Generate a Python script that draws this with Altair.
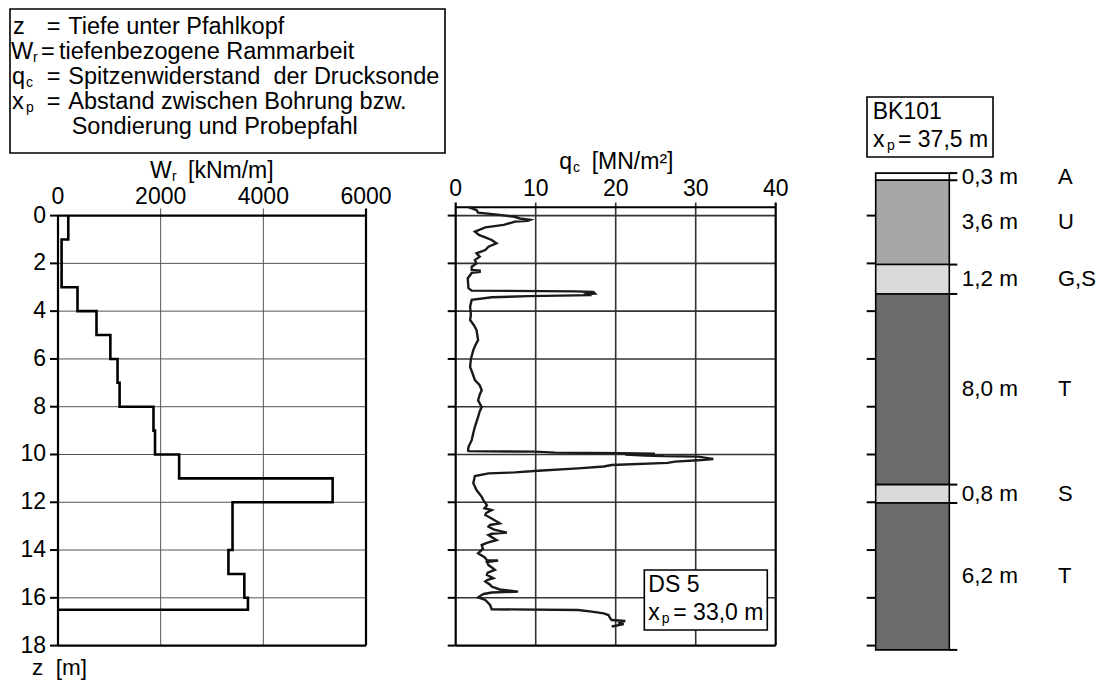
import altair as alt
import pandas as pd

FONT = "Liberation Sans"

# ---------------- data ----------------
z_ticks = [0, 2, 4, 6, 8, 10, 12, 14, 16, 18]
wr_ticks = [0, 2000, 4000, 6000]
qc_ticks = [0, 10, 20, 30, 40]

# tiefenbezogene Rammarbeit W_r (step profile)
wr_top = [0, 1, 3, 4, 5, 6, 7, 8, 9, 10, 11, 12, 14, 15, 16]
wr_bot = [1, 3, 4, 5, 6, 7, 8, 9, 10, 11, 12, 14, 15, 16, 16.5]
wr_val = [200, 70, 380, 750, 1020, 1160, 1200, 1860, 1890, 2360, 5350, 3400, 3320, 3630, 3700]

# Spitzenwiderstand q_c (DS 5)
qc_z = [-0.35, -0.23, -0.12, -0.03, 0.05, 0.12, 0.18, 0.22, 0.25, 0.39, 0.49, 0.67, 0.81, 0.91,
        1.02, 1.16, 1.3, 1.44, 1.58, 1.72, 1.86, 2.0, 2.14, 2.27, 2.3, 2.36, 2.4, 2.63, 3.04,
        3.14, 3.17, 3.2, 3.26, 3.3, 3.33, 3.37, 3.42, 3.53, 3.81, 4.16,
        4.37, 4.6, 4.79, 5.0, 5.21, 5.4, 5.63, 6.0, 6.33, 6.6, 6.89, 7.1, 7.31, 7.5, 7.73, 8.01,
        8.2, 8.43, 8.84, 9.1, 9.4, 9.68, 9.84,
        9.86, 9.88, 9.92, 9.95, 9.97, 10.0, 10.04, 10.07, 10.09, 10.15, 10.19, 10.24, 10.3, 10.35,
        10.44, 10.5, 10.58, 10.68, 10.75, 10.79, 10.9, 11.2, 11.49,
        11.77, 11.91, 12.12, 12.25, 12.33, 12.45, 12.53, 12.7, 12.88, 12.95, 13.02, 13.15, 13.27,
        13.32, 13.37, 13.48, 13.58, 13.7, 13.79, 13.95, 14.14, 14.3, 14.42, 14.44, 14.5, 14.63,
        14.75, 14.83, 14.95, 15.04, 15.18, 15.25, 15.32, 15.45, 15.53, 15.65, 15.74, 15.78, 15.84,
        15.88, 15.98, 16.09, 16.3, 16.48, 16.51, 16.58, 16.65, 16.72, 16.85, 16.93, 16.97, 17.03,
        17.1, 17.2]
qc_val = [1.6, 2.6, 2.8, 5.5, 7.4, 8.0, 9.3, 9.0, 7.4, 6.0, 3.7, 2.4, 2.9, 3.7,
          4.5, 5.1, 4.1, 3.7, 2.6, 3.0, 2.4, 2.6, 2.0, 2.0, 3.0, 3.0, 2.0, 1.5, 1.6,
          2.0, 15.0, 17.2, 17.4, 16.0, 17.0, 9.1, 4.5, 2.0, 1.8, 1.9,
          1.8, 2.3, 2.6, 2.7, 2.8, 2.5, 2.2, 1.9, 1.8, 2.1, 2.4, 3.0, 3.25, 3.0, 2.8, 3.25,
          3.0, 2.8, 2.4, 2.2, 2.0, 1.6, 1.55,
          1.6, 9.9, 12.4, 20.7, 24.9, 21.2, 23.7, 26.0, 30.3, 31.5, 32.2, 30.3, 27.4, 26.5,
          19.5, 18.5, 15.3, 10.3, 7.4, 4.1, 2.4, 2.2, 2.6,
          3.25, 3.45, 3.9, 3.6, 4.5, 3.8, 3.7, 4.6, 5.5, 4.3, 4.1, 4.8, 6.4,
          4.5, 4.1, 4.6, 5.1, 3.9, 3.25, 3.4, 2.8, 3.6, 3.9, 5.3, 3.9, 4.1,
          4.6, 4.9, 4.0, 3.9, 4.7, 4.0, 3.7, 4.3, 4.5, 5.5, 7.8, 4.5, 3.5,
          3.25, 2.8, 3.7, 4.3, 4.5, 15.3, 17.0, 18.5, 19.1, 19.3, 19.5, 21.2, 20.3,
          21.0, 19.5]

# Bohrprofil BK101
bk_top = [-1.78, -1.48, 2.05, 3.28, 11.26, 12.03]
bk_bot = [-1.48, 2.05, 3.28, 11.26, 12.03, 18.18]
bk_thick = ["0,3 m", "3,6 m", "1,2 m", "8,0 m", "0,8 m", "6,2 m"]
bk_soil = ["A", "U", "G,S", "T", "S", "T"]
bk_color = ["#ffffff", "#a7a7a7", "#dadada", "#6b6b6b", "#dadada", "#6b6b6b"]

# ---------------- layout constants ----------------
Z_MAX = 18
WR_MAX = 6000
QC_MAX = 40
QC_TOP = -0.35
TICK_UP = 0.3

ys = alt.Scale(domain=[0, Z_MAX], range=[207.6, 637.6], nice=False, zero=False)
xs1 = alt.Scale(domain=[0, WR_MAX], range=[50, 358], nice=False, zero=False)
xs2 = alt.Scale(domain=[0, QC_MAX], range=[447.7, 767.7], nice=False, zero=False)
xs3 = alt.Scale(domain=[0, 1], range=[867.7, 941.3], nice=False, zero=False)


def Y(f):
    return alt.Y(f, type="quantitative", scale=ys, axis=None)


def X(f, s):
    return alt.X(f, type="quantitative", scale=s, axis=None)


def txt(s, x, y, size=23.5, align="left", baseline="middle"):
    return alt.Chart(pd.DataFrame({"t": [s]})).mark_text(
        align=align, baseline=baseline, fontSize=size, font=FONT, color="black"
    ).encode(x=alt.value(x), y=alt.value(y), text="t:N")


def box(x1, y1, x2, y2):
    return alt.Chart(pd.DataFrame({"a": [0]})).mark_rect(
        fill="white", stroke="black", strokeWidth=1.6
    ).encode(x=alt.value(x1), x2=alt.value(x2), y=alt.value(y1), y2=alt.value(y2))


layers = []

# ---------------- legend box ----------------
layers.append(box(2, 1, 437, 145))
SUB = 14
rows = [18.7, 43.7, 68.7, 93.7, 118.7]
layers += [
    txt("z", 5, rows[0]), txt("=", 38.7, rows[0]), txt("Tiefe unter Pfahlkopf", 60.3, rows[0]),
    txt("W", 3, rows[1]), txt("r", 25, rows[1] + 6, SUB), txt("=", 33, rows[1]),
    txt("tiefenbezogene Rammarbeit", 51, rows[1]),
    txt("q", 4, rows[2]), txt("c", 18, rows[2] + 6, SUB), txt("=", 38.7, rows[2]),
    txt("Spitzenwiderstand\u00a0 der Drucksonde", 60.3, rows[2]),
    txt("x", 4, rows[3]), txt("p", 18, rows[3] + 6, SUB), txt("=", 38.7, rows[3]),
    txt("Abstand zwischen Bohrung bzw.", 60.3, rows[3]),
    txt("Sondierung und Probepfahl", 63.7, rows[4]),
]

# ---------------- panel 1: W_r ----------------
hgrid1 = pd.DataFrame({"z": z_ticks[1:-1], "a": 0, "b": WR_MAX})
vgrid1 = pd.DataFrame({"v": wr_ticks[1:-1], "z0": -TICK_UP, "z1": Z_MAX})
hframe1 = pd.DataFrame({"z": [0, Z_MAX], "a": 0, "b": WR_MAX})
vframe1 = pd.DataFrame({"v": [0, WR_MAX], "z0": [0, -TICK_UP], "z1": Z_MAX})

layers += [
    alt.Chart(hgrid1).mark_rule(color="#555555", strokeWidth=1).encode(y=Y("z"), x=X("a", xs1), x2="b"),
    alt.Chart(vgrid1).mark_rule(color="#555555", strokeWidth=1).encode(x=X("v", xs1), y=Y("z0"), y2="z1"),
    alt.Chart(hframe1).mark_rule(color="black", strokeWidth=2.2).encode(y=Y("z"), x=X("a", xs1), x2="b"),
    alt.Chart(vframe1).mark_rule(color="black", strokeWidth=2.2).encode(x=X("v", xs1), y=Y("z0"), y2="z1"),
    alt.Chart(pd.DataFrame({"z": z_ticks})).mark_rule(color="black", strokeWidth=2).encode(
        y=Y("z"), x=alt.value(42), x2=alt.value(50)),
]

wr_rows = []
for t, b, v in zip(wr_top, wr_bot, wr_val):
    wr_rows.append((t, v))
    wr_rows.append((b, v))
wr_rows.append((wr_bot[-1], 0))
wr_df = pd.DataFrame({"i": range(len(wr_rows)), "z": [r[0] for r in wr_rows], "w": [r[1] for r in wr_rows]})
layers.append(
    alt.Chart(wr_df).mark_line(color="black", strokeWidth=2.6, strokeJoin="miter").encode(
        x=X("w", xs1), y=Y("z"), order="i:Q")
)

layers += [
    alt.Chart(pd.DataFrame({"v": wr_ticks})).mark_text(fontSize=23, font=FONT, baseline="middle", color="black").encode(
        x=X("v", xs1), y=alt.value(188.7), text="v:N"),
    alt.Chart(pd.DataFrame({"z": z_ticks})).mark_text(fontSize=23, font=FONT, align="right", baseline="middle",
                                                      color="black").encode(
        y=Y("z"), x=alt.value(38), text="z:N"),
    txt("W", 142, 162.7, 23), txt("r", 164, 168.7, SUB), txt("[kNm/m]", 180, 162.7, 23),
    txt("z\u00a0 [m]", 24, 672, 22.5, baseline="bottom"),
]

# ---------------- panel 2: q_c ----------------
hgrid2 = pd.DataFrame({"z": z_ticks[:-1], "a": 0, "b": QC_MAX})
vgrid2 = pd.DataFrame({"v": qc_ticks[1:-1], "z0": QC_TOP - 0.2, "z1": Z_MAX})
hframe2 = pd.DataFrame({"z": [QC_TOP, Z_MAX], "a": 0, "b": QC_MAX})
vframe2 = pd.DataFrame({"v": [0, QC_MAX], "z0": QC_TOP - 0.2, "z1": Z_MAX})

layers += [
    alt.Chart(hgrid2).mark_rule(color="#333333", strokeWidth=1.6).encode(y=Y("z"), x=X("a", xs2), x2="b"),
    alt.Chart(vgrid2).mark_rule(color="#333333", strokeWidth=1.6).encode(x=X("v", xs2), y=Y("z0"), y2="z1"),
    alt.Chart(hframe2).mark_rule(color="black", strokeWidth=2.2).encode(y=Y("z"), x=X("a", xs2), x2="b"),
    alt.Chart(vframe2).mark_rule(color="black", strokeWidth=2.2).encode(x=X("v", xs2), y=Y("z0"), y2="z1"),
    alt.Chart(pd.DataFrame({"z": z_ticks})).mark_rule(color="black", strokeWidth=2).encode(
        y=Y("z"), x=alt.value(439.7), x2=alt.value(447.7)),
]

qc_df = pd.DataFrame({"i": range(len(qc_z)), "z": qc_z, "q": qc_val})
layers.append(
    alt.Chart(qc_df).mark_line(color="#1a1a1a", strokeWidth=2.4).encode(
        x=X("q", xs2), y=Y("z"), order="i:Q")
)

layers += [
    alt.Chart(pd.DataFrame({"v": qc_ticks})).mark_text(fontSize=23, font=FONT, baseline="middle", color="black").encode(
        x=X("v", xs2), y=alt.value(181.3), text="v:N"),
    txt("q", 551.3, 153.7, 23), txt("c", 565, 159.7, SUB), txt("[MN/m²]", 583.7, 153.7, 23),
    box(636.3, 562, 759.3, 622),
    txt("DS 5", 640.3, 577, 23), txt("x", 640.3, 605, 23), txt("p", 653.7, 611, SUB),
    txt("= 33,0 m", 665.3, 605, 23),
]

# ---------------- panel 3: BK101 ----------------
bk_df = pd.DataFrame({
    "top": bk_top, "bot": bk_bot, "fill": bk_color, "thick": bk_thick, "soil": bk_soil,
    "a": 0, "b": 1,
})
bk_df["mid"] = (bk_df["top"] + bk_df["bot"]) / 2
bounds = pd.DataFrame({"z": bk_top + [bk_bot[-1]]})

layers += [
    alt.Chart(bk_df).mark_rect(stroke="black", strokeWidth=1.6).encode(
        x=X("a", xs3), x2="b", y=Y("top"), y2="bot", fill=alt.Fill("fill:N", scale=None)),
    alt.Chart(pd.DataFrame({"z": z_ticks})).mark_rule(color="black", strokeWidth=2).encode(
        y=Y("z"), x=alt.value(858.7), x2=alt.value(867.7)),
    alt.Chart(bounds).mark_rule(color="black", strokeWidth=2).encode(
        y=Y("z"), x=alt.value(941.3), x2=alt.value(949.3)),
    alt.Chart(bk_df).mark_text(fontSize=22.5, font=FONT, align="left", baseline="middle", color="black").encode(
        y=Y("mid"), x=alt.value(953.7), text="thick:N"),
    alt.Chart(bk_df).mark_text(fontSize=22, font=FONT, align="left", baseline="middle", color="black").encode(
        y=Y("mid"), x=alt.value(1050), text="soil:N"),
    box(859, 89, 985, 149),
    txt("BK101", 864.7, 104, 23), txt("x", 865, 132, 23), txt("p", 879, 138, SUB),
    txt("= 37,5 m", 890, 132, 23),
]

chart = alt.layer(*layers).resolve_scale(x="independent").properties(
    width=1089, height=673, autosize=alt.AutoSizeParams(type="none"), padding=0
).configure_view(stroke="transparent")

chart.save("out.html", embed_options={"renderer": "svg", "actions": False})
